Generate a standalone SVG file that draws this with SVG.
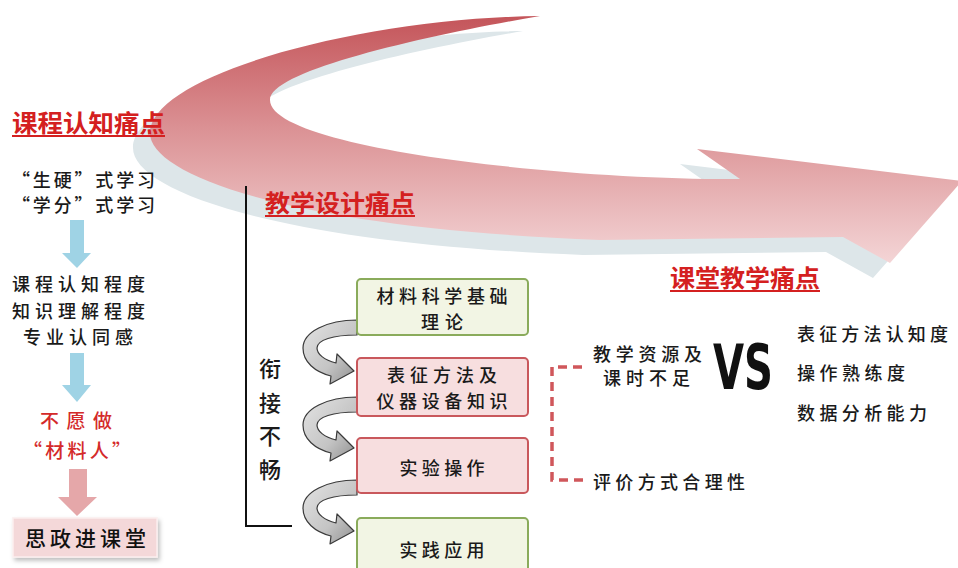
<svg xmlns="http://www.w3.org/2000/svg" width="958" height="568" viewBox="0 0 958 568">
<style>
text{font-family:"Noto Sans CJK SC","Noto Sans",sans-serif;}
.body{font-size:18px;fill:#1a1a1a;font-weight:500;}
.title{font-size:24px;font-weight:bold;fill:#d42020;}
.red{font-size:19px;fill:#d42a2a;font-weight:500;}
.ul{stroke:#d42020;stroke-width:2;}
.boxg{fill:#f2f5e4;stroke:#8aab5b;stroke-width:2;}
.boxr{fill:#f7dedf;stroke:#c9585c;stroke-width:2;}
.btxt{font-size:18px;fill:#1a1a1a;text-anchor:middle;font-weight:500;}
.vt{font-size:22px;fill:#1a1a1a;text-anchor:middle;font-weight:500;}
.garrow{fill:url(#gGray);stroke:#3a3a3a;stroke-width:1.2;stroke-linejoin:round;}
</style>
<defs>
<linearGradient id="gBig" gradientUnits="userSpaceOnUse" x1="0" y1="16" x2="0" y2="265">
<stop offset="0" stop-color="#c4555a"/>
<stop offset="0.45" stop-color="#db9194"/>
<stop offset="1" stop-color="#f4d6d7"/>
</linearGradient>
<linearGradient id="gGray" x1="0" y1="0" x2="1" y2="1">
<stop offset="0" stop-color="#e4e4e4"/>
<stop offset="0.6" stop-color="#c4c4c4"/>
<stop offset="1" stop-color="#8e8e8e"/>
</linearGradient>
<path id="bigArrow" d="M540,16 C360,18 150,75 150,133 C150,175 290,228 600,240 L843,237 L890,263 L962,181 L697,149 L740,179 C560,180 270,148 270,100 C270,70 430,35 540,16 Z"/>
<path id="curveArrow" d="M0,0 C-30,0 -54,12 -54,28 C-54,42 -42,52 -26,56 L-27,64 L-3,51 L-20,34 L-21,43 C-33,40 -40,34 -40,28 C-40,20 -24,15 0,15 Z"/>
<filter id="sh" x="-10%" y="-20%" width="130%" height="150%">
<feDropShadow dx="2" dy="3" stdDeviation="2" flood-color="#000" flood-opacity="0.25"/>
</filter>
</defs>
<rect width="958" height="568" fill="#ffffff"/>

<g id="big-arrow">
<use href="#bigArrow" transform="translate(-17,15)" fill="#dde6e9"/>
<use href="#bigArrow" fill="url(#gBig)"/>
</g>

<g id="connectors">
<g id="blue-arrow-1" fill="#9fd3e5">
<path d="M70,220 H84 V253 H91 L77,268 L62,253 H70 Z"/>
</g>
<g id="blue-arrow-2" fill="#9fd3e5">
<path d="M70,353 H84 V385 H91 L77,402 L62,385 H70 Z"/>
</g>
<g id="pink-arrow" fill="#e5a7a9">
<path d="M69,469 H87 V497 H97 L77,516 L58,497 H69 Z"/>
</g>
<path id="bracket" d="M246,186 V526 H292" fill="none" stroke="#111" stroke-width="2"/>
<use href="#curveArrow" class="garrow" transform="translate(357,320)"/>
<use href="#curveArrow" class="garrow" transform="translate(357,397)"/>
<use href="#curveArrow" class="garrow" transform="translate(357,480)"/>
<path id="dashed-bracket" d="M582,367 H552 V480 H583" fill="none" stroke="#d0575b" stroke-width="3.5" stroke-dasharray="9,6"/>
</g>

<g id="course-cognition">
<text class="title" x="12" y="132" textLength="153" lengthAdjust="spacingAndGlyphs">课程认知痛点</text>
<line class="ul" x1="12" y1="136" x2="165" y2="136"/>
<text class="body" x="12" y="187" textLength="143" lengthAdjust="spacing">“生硬”式学习</text>
<text class="body" x="12" y="212" textLength="143" lengthAdjust="spacing">“学分”式学习</text>
<text class="body" x="12" y="291" textLength="133" lengthAdjust="spacing">课程认知程度</text>
<text class="body" x="12" y="318" textLength="133" lengthAdjust="spacing">知识理解程度</text>
<text class="body" x="23" y="344" textLength="110" lengthAdjust="spacing">专业认同感</text>
<text class="red" x="40" y="428" textLength="72" lengthAdjust="spacing">不愿做</text>
<text class="red" x="23" y="458" textLength="108" lengthAdjust="spacing">“材料人”</text>
</g>

<g id="sizheng">
<rect x="13" y="518" width="144" height="39" fill="#f4d8d9" stroke="#fbeeee" stroke-width="1.5" filter="url(#sh)"/>
<text x="25" y="546" style="font-size:21px;fill:#111;font-weight:500" textLength="121" lengthAdjust="spacing">思政进课堂</text>
</g>

<g id="design-title">
<text class="title" x="265" y="212" textLength="150" lengthAdjust="spacingAndGlyphs">教学设计痛点</text>
<line class="ul" x1="265" y1="216" x2="415" y2="216"/>
</g>

<g id="disconnect">
<text class="vt" x="270" y="377">衔</text>
<text class="vt" x="270" y="411">接</text>
<text class="vt" x="270" y="444">不</text>
<text class="vt" x="270" y="478">畅</text>
</g>

<g id="box-theory">
<rect class="boxg" x="357" y="279" width="171" height="56" rx="4"/>
<text class="btxt" x="442" y="303" textLength="131" lengthAdjust="spacing">材料科学基础</text>
<text class="btxt" x="442" y="329" textLength="42" lengthAdjust="spacing">理论</text>
</g>
<g id="box-method">
<rect class="boxr" x="357" y="358" width="171" height="58" rx="4"/>
<text class="btxt" x="442" y="382" textLength="110" lengthAdjust="spacing">表征方法及</text>
<text class="btxt" x="442" y="408" textLength="131" lengthAdjust="spacing">仪器设备知识</text>
</g>
<g id="box-experiment">
<rect class="boxr" x="357" y="438" width="171" height="55" rx="4"/>
<text class="btxt" x="442" y="475" textLength="85" lengthAdjust="spacing">实验操作</text>
</g>
<g id="box-practice">
<rect class="boxg" x="357" y="518" width="171" height="60" rx="4"/>
<text class="btxt" x="442" y="557" textLength="85" lengthAdjust="spacing">实践应用</text>
</g>

<g id="classroom">
<text class="title" x="670" y="287" textLength="150" lengthAdjust="spacingAndGlyphs">课堂教学痛点</text>
<line class="ul" x1="670" y1="291" x2="820" y2="291"/>
<text class="body" x="593" y="361" textLength="109" lengthAdjust="spacing">教学资源及</text>
<text class="body" x="603" y="385" textLength="87" lengthAdjust="spacing">课时不足</text>
<text x="713" y="389" style="font-family:'DejaVu Sans',sans-serif;font-size:62px;font-weight:bold;fill:#111" textLength="60" lengthAdjust="spacingAndGlyphs">VS</text>
<text class="body" x="797" y="341" textLength="151" lengthAdjust="spacing">表征方法认知度</text>
<text class="body" x="797" y="380" textLength="108" lengthAdjust="spacing">操作熟练度</text>
<text class="body" x="797" y="420" textLength="130" lengthAdjust="spacing">数据分析能力</text>
<text class="body" x="593" y="489" textLength="152" lengthAdjust="spacing">评价方式合理性</text>
</g>
</svg>
